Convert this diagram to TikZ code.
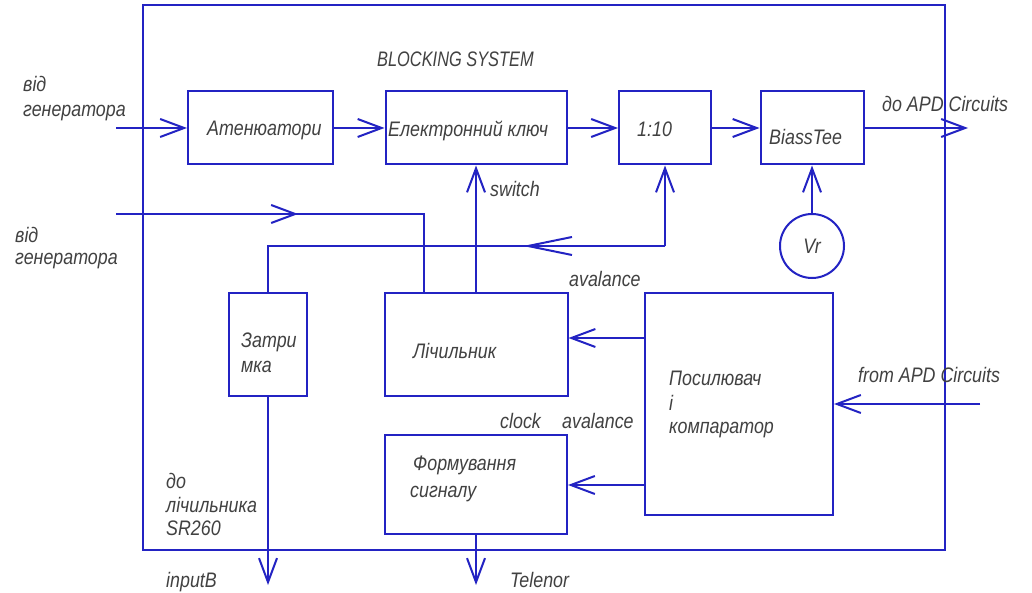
\documentclass[tikz,border=0pt]{standalone}
\usepackage{fontspec}
\setmainfont{Liberation Sans}[FakeStretch=0.85]
\newfontfamily\narrowfont{Liberation Sans}[FakeStretch=0.78]
\usetikzlibrary{arrows.meta}
\definecolor{lineblue}{RGB}{35,35,195}
\definecolor{txtgray}{RGB}{65,65,65}
\tikzset{
  box/.style={draw=lineblue, line width=2pt, inner sep=0pt},
  conn/.style={draw=lineblue, line width=2pt},
  arr/.style={conn, -{Straight Barb[length=24pt,width=18pt]}},
  arrlong/.style={conn, -{Straight Barb[length=44pt,width=18pt]}},
  lbl/.style={text=txtgray, font=\itshape\fontsize{21}{24}\selectfont, inner sep=0pt, anchor=base west},
}
\begin{document}
\begin{tikzpicture}[x=1pt,y=-1pt]
\useasboundingbox (0,0) rectangle (1032,593);
\fill[white] (0,0) rectangle (1032,593);
% frame
\node[box, minimum width=802pt, minimum height=545pt] (frame) at (544,277.5) {};
% blocks
\node[box, minimum width=145pt, minimum height=73pt] (att) at (260.5,128) {};
\node[box, minimum width=181pt, minimum height=73pt] (key) at (476,128) {};
\node[box, minimum width=92pt, minimum height=73pt] (div) at (665,128) {};
\node[box, minimum width=103pt, minimum height=73pt] (bias) at (812,128) {};
\node[box, circle, minimum size=64pt, text=txtgray, font=\itshape\fontsize{21}{24}\selectfont] (vr) at (812,246) {Vr};
\node[box, minimum width=78pt, minimum height=103pt] (delay) at (268,344) {};
\node[box, minimum width=183pt, minimum height=103pt] (counter) at (476,344) {};
\node[box, minimum width=188pt, minimum height=222pt] (amp) at (739,404) {};
\node[box, minimum width=182pt, minimum height=99pt] (form) at (476,484) {};
% coordinates
\coordinate (in1) at (116,128);
\coordinate (out1) at (968,128);
\coordinate (in2) at (116,214);
\coordinate (m2) at (298,214);
\coordinate (c2) at (424,214);
\coordinate (c3) at (665,246);
\coordinate (m3) at (523,246);
\coordinate (c4) at (268,246);
\coordinate (o1) at (268,585);
\coordinate (o2) at (476,585);
\coordinate (in3) at (980,404);
% connectors
\draw[arr] (in1) -- (att.west);
\draw[arr] (att.east) -- (key.west);
\draw[arr] (key.east) -- (div.west);
\draw[arr] (div.east) -- (bias.west);
\draw[arr] (bias.east) -- (out1);
\draw[arr] (vr.north) -- (bias.south);
\draw[arr] (counter.north) -- (key.south);
\draw[conn] (in2) -- (c2) -- (c2 |- counter.north);
\draw[arr] (in2) -- (m2);
\draw[arr] (c3) -- (div.south);
\draw[conn] (c3) -- (c4) -- (delay.north);
\draw[arrlong] (c3) -- (m3);
\draw[arr] (delay.south) -- (o1);
\draw[arr] (form.south) -- (o2);
\draw[arr] (amp.west |- 0,338) -- (counter.east |- 0,338);
\draw[arr] (amp.west |- 0,485) -- (form.east |- 0,485);
\draw[arr] (in3) -- (amp.east);
% labels
\node[lbl, font=\itshape\narrowfont\fontsize{21}{24}\selectfont] (tsys) at (377,67) {BLOCKING SYSTEM};
\node[lbl] (tvid1) at (23,92) {від};
\node[lbl] (tgen1) at (23,117) {генератора};
\node[lbl] (tvid2) at (15,243) {від};
\node[lbl] (tgen2) at (15,265) {генератора};
\node[lbl] (tatt) at (207,136) {Атенюатори};
\node[lbl] (tkey) at (388,137) {Електронний ключ};
\node[lbl] (tdiv) at (637,137) {1:10};
\node[lbl] (tbias) at (769,145) {BiassTee};
\node[lbl] (tout) at (882,112) {до APD Circuits};
\node[lbl] (tsw) at (490,197) {switch};
\node[lbl] (tav1) at (569,287) {avalance};
\node[lbl] (tdel1) at (241,347) {Затри};
\node[lbl] (tdel2) at (241,372) {мка};
\node[lbl] (tcnt) at (413,358) {Лічильник};
\node[lbl] (tclk) at (500,428) {clock};
\node[lbl] (tav2) at (562,428) {avalance};
\node[lbl] (tform1) at (413,470) {Формування};
\node[lbl] (tform2) at (410,497) {сигналу};
\node[lbl] (tamp1) at (669,385) {Посилювач};
\node[lbl] (tamp2) at (669,410) {і};
\node[lbl] (tamp3) at (669,433) {компаратор};
\node[lbl] (tin) at (858,382) {from APD Circuits};
\node[lbl] (tdo1) at (166,488) {до};
\node[lbl] (tdo2) at (166,512) {лічильника};
\node[lbl] (tdo3) at (166,535) {SR260};
\node[lbl] (tinb) at (166,587) {inputB};
\node[lbl] (ttel) at (510,587) {Telenor};
\end{tikzpicture}
\end{document}
